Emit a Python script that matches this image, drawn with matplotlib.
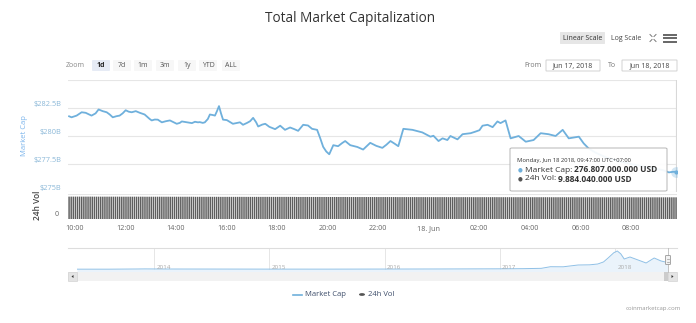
import numpy as np
import matplotlib
matplotlib.use("Agg")
import matplotlib.pyplot as plt
from matplotlib.patches import FancyBboxPatch, Rectangle, Polygon
from matplotlib.lines import Line2D

# ---- data -------------------------------------------------------------
# market cap (billion USD) by hour of day, Jun 17 09:47 -> Jun 18 09:47 (24h = midnight)
cap_hours = [9.783, 9.88, 10.08, 10.28, 10.44, 10.67, 10.83, 10.95, 11.11, 11.27, 11.39, 11.51,
             11.66, 11.78, 11.9, 12.02, 12.14, 12.26, 12.42, 12.58, 12.77, 12.97, 13.05, 13.17,
             13.29, 13.45, 13.61, 13.77, 13.92, 14.04, 14.16, 14.24, 14.44, 14.64, 14.76, 14.88,
             14.95, 15.07, 15.15, 15.27, 15.35, 15.47, 15.55, 15.63, 15.71, 15.79, 15.87, 16.02,
             16.26, 16.42, 16.54, 16.66, 16.82, 16.94, 17.06, 17.18, 17.26, 17.42, 17.54, 17.7,
             17.93, 18.13, 18.32, 18.52, 18.68, 18.84, 19.04, 19.23, 19.39, 19.59, 19.71, 19.83,
             19.95, 20.07, 20.23, 20.42, 20.58, 20.7, 20.9, 21.18, 21.41, 21.69, 21.93, 22.17,
             22.33, 22.49, 22.65, 22.8, 23.0, 23.36, 23.75, 24.07, 24.19, 24.39, 24.55, 24.74,
             24.86, 25.14, 25.34, 25.66, 25.85, 26.01, 26.13, 26.33, 26.53, 26.72, 26.84, 27.04,
             27.24, 27.56, 27.84, 28.15, 28.43, 28.74, 29.02, 29.3, 29.54, 29.94, 30.13, 30.33,
             30.61, 31.0, 31.6, 32.2, 32.79, 33.27, 33.5, 33.65, 33.783]
cap_values = [281.76, 281.67, 281.82, 282.12, 282.07, 281.82, 282.02, 282.37, 282.22, 282.12, 281.92, 281.67,
              281.77, 281.82, 282.02, 282.30, 282.17, 282.12, 282.22, 282.07, 281.92, 281.52, 281.39, 281.47,
              281.46, 281.22, 281.32, 281.39, 281.22, 281.09, 281.17, 281.30, 281.22, 281.15, 281.27, 281.22,
              281.24, 281.17, 281.22, 281.52, 281.92, 281.87, 281.82, 282.22, 282.67, 282.02, 281.46, 281.42,
              281.09, 281.17, 281.22, 281.00, 281.17, 281.32, 281.62, 281.22, 280.85, 281.02, 281.09, 280.82,
              280.61, 280.92, 280.55, 280.76, 280.62, 280.46, 281.00, 280.94, 280.64, 280.55, 279.82, 279.03,
              278.62, 278.37, 279.18, 279.09, 279.37, 279.55, 279.18, 279.02, 278.79, 279.39, 279.12, 278.94,
              279.22, 279.55, 279.32, 279.09, 280.64, 280.55, 280.32, 279.94, 280.02, 279.55, 279.79, 279.64,
              280.00, 279.70, 280.16, 280.25, 280.39, 280.52, 280.92, 281.00, 280.79, 281.30, 281.15, 281.39,
              279.79, 280.00, 279.49, 279.64, 280.25, 280.16, 280.00, 280.55, 279.79, 279.94, 279.34, 278.88,
              278.50, 278.10, 277.70, 277.40, 277.15, 276.95, 276.75, 276.80, 276.807]

# 24h volume (billion USD), one reading per hour from 09:47
vol_hourly = [10.21, 10.19, 10.18, 10.16, 10.15, 10.12, 10.10, 10.09, 10.08, 10.05, 10.04, 10.02,
              10.01, 9.99, 9.98, 9.97, 9.96, 9.95, 9.94, 9.93, 9.92, 9.91, 9.90, 9.89, 9.884]

x_ticks = [10, 12, 14, 16, 18, 20, 22, 24, 26, 28, 30, 32]
x_labels = ["10:00", "12:00", "14:00", "16:00", "18:00", "20:00", "22:00", "18. Jun",
            "02:00", "04:00", "06:00", "08:00"]
y_ticks = [275, 277.5, 280, 282.5, 285]
y_labels = ["$275B", "$277.5B", "$280B", "$282.5B", ""]

# full-history navigator series (decimal year, billion USD)
nav_years = [2013.33, 2013.6, 2013.85, 2013.92, 2014.1, 2014.5, 2015.0, 2015.5, 2016.0, 2016.5,
             2017.0, 2017.2, 2017.36, 2017.44, 2017.55, 2017.68, 2017.78, 2017.85, 2017.9, 2017.94,
             2017.99, 2018.02, 2018.05, 2018.08, 2018.13, 2018.2, 2018.27, 2018.34, 2018.4, 2018.46]
nav_values = [1.5, 1.2, 10, 14, 9, 7, 4, 3.5, 7, 11,
              18, 25, 40, 114, 110, 192, 200, 237, 330, 510,
              752, 830, 700, 465, 556, 420, 283, 510, 374, 300]
nav_year_ticks = [2014, 2015, 2016, 2017, 2018]

# ---- figure -----------------------------------------------------------
W, H = 696, 323
plt.rcParams["font.family"] = ["Open Sans", "DejaVu Sans"]
fig = plt.figure(figsize=(W / 100, H / 100), dpi=100)
fig.patch.set_facecolor("white")
renderer = fig.canvas.get_renderer()

LINE = "#6fb0dc"
GRID = "#e6e6e6"
TXT = "#666666"


def fx(x):
    return x / W


def fy(y):
    return 1 - y / H


def rect(x0, y0, x1, y1):
    return [x0 / W, 1 - y1 / H, (x1 - x0) / W, (y1 - y0) / H]


def box(x0, y0, x1, y1, fc, ec="none", lw=0.6, r=1.5, z=5):
    p = FancyBboxPatch((fx(x0), fy(y1)), (x1 - x0) / W, (y1 - y0) / H,
                       boxstyle=f"round,pad=0,rounding_size={r / W}",
                       transform=fig.transFigure, fc=fc, ec=ec, lw=lw, zorder=z)
    fig.add_artist(p)
    return p


def ftext(x, y, s, **kw):
    kw.setdefault("ha", "center")
    kw.setdefault("va", "center")
    return fig.text(fx(x), fy(y), s, **kw)


def text_run(x, y, parts, **kw):
    """Place several differently styled strings one after another on a line."""
    for s, extra in parts:
        t = ftext(x, y, s, ha="left", **kw, **extra)
        x += t.get_window_extent(renderer).width


t_lo, t_hi = 9.74, 33.82

# main pane
ax = fig.add_axes(rect(68, 80, 677, 192))
ax.plot(cap_hours, cap_values, color=LINE, lw=1.3, solid_joinstyle="round", zorder=3)
ax.set_xlim(t_lo, t_hi)
ax.set_ylim(275, 285)
ax.set_yticks(y_ticks)
ax.set_yticklabels(y_labels)
ax.grid(axis="y", color=GRID, lw=0.8)
ax.set_axisbelow(True)
ax.tick_params(axis="y", length=0, pad=5, labelsize=5.3, labelcolor="#8bb8d8")
for lbl in ax.get_yticklabels():
    lbl.set_va("bottom")
ax.tick_params(axis="x", length=0, labelbottom=False)
for s in ax.spines.values():
    s.set_visible(False)
ax.set_facecolor("none")
# hover crosshair and marker on the last point
ax.axvline(cap_hours[-1], color="#d8d8d8", lw=0.8, zorder=2)
ax.scatter([cap_hours[-1]], [cap_values[-1]], s=60, color=LINE, alpha=0.3, lw=0, zorder=4)
ax.scatter([cap_hours[-1]], [cap_values[-1]], s=9, color=LINE, lw=0, zorder=5)

# volume pane
axv = fig.add_axes(rect(68, 194, 677, 219))
vol_t = cap_hours[0] + np.arange(289) * 5 / 60
vol_v = np.repeat(vol_hourly, 12)[:289]
bars = axv.bar(vol_t, vol_v, width=5 / 60 * 0.7, color="#5e5e5e", lw=0, zorder=3)
for b in bars:
    b.set_snap(False)
axv.set_xlim(t_lo, t_hi)
axv.set_ylim(0, 11.4)
axv.set_yticks([])
axv.set_xticks(x_ticks)
axv.set_xticklabels(x_labels)
axv.tick_params(axis="x", length=0, pad=4.5, labelsize=5.2, labelcolor=TXT)
for s in axv.spines.values():
    s.set_visible(False)
axv.axhline(11.4, color=GRID, lw=0.8)

# axis titles
ftext(24, 136, "Market Cap", rotation=90, fontsize=5.5, color="#7cb5ec")
ftext(38, 205, "24h Vol", rotation=90, fontsize=6, color="#444444", fontweight="semibold")
ftext(57, 214, "0", fontsize=5.2, color=TXT)

# navigator
axn = fig.add_axes(rect(77, 248, 668, 272))
nav_lo = -127
axn.fill_between(nav_years, nav_values, nav_lo, color="#eaf3fb", lw=0, zorder=2)
axn.plot(nav_years, nav_values, color="#8fc0e6", lw=0.7, zorder=3)
axn.set_xlim(2013.33, 2018.46)
axn.set_ylim(nav_lo, 966)
axn.set_xticks([])
axn.set_yticks([])
for s in axn.spines.values():
    s.set_visible(False)
for yr in nav_year_ticks:
    axn.axvline(yr, color=GRID, lw=0.7, zorder=1)
    axn.text(yr + 0.02, 0.2, str(yr), transform=axn.get_xaxis_transform(),
             fontsize=4.5, color="#aaaaaa", ha="left", va="center", zorder=4)
fig.add_artist(Line2D([fx(68), fx(677)], [fy(248), fy(248)], color="#dddddd", lw=0.8,
                      transform=fig.transFigure))

# scrollbar
fig.add_artist(Rectangle((fx(68), fy(281)), 609 / W, 9 / H, transform=fig.transFigure,
                         fc="#f2f2f2", ec="none", zorder=5))
fig.add_artist(Rectangle((fx(68), fy(281)), 9 / W, 9 / H, transform=fig.transFigure,
                         fc="#e4e4e4", ec="#cccccc", lw=0.4, zorder=6))
fig.add_artist(Rectangle((fx(664), fy(281)), 4 / W, 9 / H, transform=fig.transFigure,
                         fc="#cccccc", ec="none", zorder=6))
fig.add_artist(Rectangle((fx(668), fy(281)), 9 / W, 9 / H, transform=fig.transFigure,
                         fc="#e4e4e4", ec="#cccccc", lw=0.4, zorder=6))
fig.add_artist(Polygon([(fx(71.5), fy(276.5)), (fx(73.5), fy(275)), (fx(73.5), fy(278))],
                       closed=True, transform=fig.transFigure, fc="#333333", ec="none", zorder=7))
fig.add_artist(Polygon([(fx(673.5), fy(276.5)), (fx(671.5), fy(275)), (fx(671.5), fy(278))],
                       closed=True, transform=fig.transFigure, fc="#333333", ec="none", zorder=7))
# navigator handle
fig.add_artist(Line2D([fx(668), fx(668)], [fy(248), fy(272)], color="#bbbbbb", lw=0.6,
                      transform=fig.transFigure, zorder=6))
box(665.5, 255.5, 670.5, 264.5, "#f2f2f2", ec="#999999", lw=0.6, r=1, z=7)
for yy in (258.5, 261.5):
    fig.add_artist(Line2D([fx(667.3), fx(668.7)], [fy(yy), fy(yy)], color="#999999", lw=0.5,
                          transform=fig.transFigure, zorder=8))

# title
ftext(350, 19, "Total Market Capitalization", fontsize=9.8, color="#333333")

# range selector
ftext(75, 65.5, "Zoom", fontsize=5, color="#888888")
btns = [("1d", 101), ("7d", 122), ("1m", 143), ("3m", 165), ("1y", 187), ("YTD", 208), ("ALL", 231)]
for lab, cx in btns:
    sel = lab == "1d"
    box(cx - 9, 60, cx + 9, 71, "#e6ebf5" if sel else "#f7f7f7", r=1.5, z=1)
    ftext(cx, 65.5, lab, fontsize=5, color="#222222" if sel else "#555555",
          fontweight="bold" if sel else "normal")

ftext(533, 65.5, "From", fontsize=5, color="#777777")
box(546, 60, 600, 71, "white", ec="#cccccc", lw=0.6, r=0.5, z=1)
ftext(573, 65.5, "Jun 17, 2018", fontsize=5, color="#444444")
ftext(612, 65.5, "To", fontsize=5, color="#777777")
box(622, 60, 677, 71, "white", ec="#cccccc", lw=0.6, r=0.5, z=1)
ftext(649.5, 65.5, "Jun 18, 2018", fontsize=5, color="#444444")

# scale buttons and icons
box(560, 32, 605, 44, "#e6e6e6", r=1, z=1)
ftext(582.5, 38, "Linear Scale", fontsize=5, color="#333333")
ftext(626, 38, "Log Scale", fontsize=5, color="#444444")
for (x0, y0, dx, dy) in [(650, 34.5, 2, 2), (656, 34.5, -2, 2), (650, 41.5, 2, -2), (656, 41.5, -2, -2)]:
    fig.add_artist(Line2D([fx(x0), fx(x0 + dx)], [fy(y0), fy(y0 + dy)], color="#777777", lw=0.7,
                          transform=fig.transFigure))
for yy in (34.5, 38, 41.5):
    fig.add_artist(Line2D([fx(664), fx(676)], [fy(yy), fy(yy)], color="#666666", lw=1.4,
                          transform=fig.transFigure))

# tooltip
box(510, 148, 667, 191, (1, 1, 1, 0.93), ec="#b5b5b5", lw=0.7, r=2, z=10)
ftext(517, 160.5, "Monday, Jun 18 2018, 09:47:00 UTC+07:00", fontsize=4.2, color="#333333",
      ha="left", zorder=11)
ftext(520, 170, "●", fontsize=4, color=LINE, zorder=11)
text_run(525, 170, [("Market Cap: ", {}), ("276.807.000.000 USD", {"fontweight": "bold"})],
         fontsize=6.0, color="#333333", zorder=11)
ftext(520, 179, "●", fontsize=4, color="#555555", zorder=11)
text_run(525, 179, [("24h Vol: ", {}), ("9.884.040.000 USD", {"fontweight": "bold"})],
         fontsize=6.0, color="#333333", zorder=11)

# legend
fig.add_artist(Line2D([fx(293), fx(302)], [fy(294.5), fy(294.5)], color=LINE, lw=1.2,
                      transform=fig.transFigure))
ftext(305, 294.5, "Market Cap", fontsize=5.5, color="#3d4d6a", ha="left")
fig.add_artist(plt.Circle((fx(362), fy(294.5)), 3 / W, transform=fig.transFigure,
                          fc="#555555", ec="none"))
ftext(368, 294.5, "24h Vol", fontsize=5.5, color="#3d4d6a", ha="left")

ftext(681, 308.5, "coinmarketcap.com", fontsize=4.3, color="#999999", ha="right")

fig.savefig("out.png", dpi=100, facecolor="white")
